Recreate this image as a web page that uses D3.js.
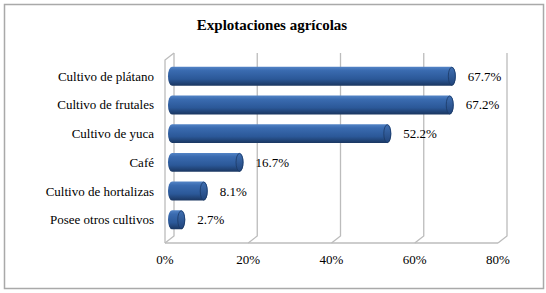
<!DOCTYPE html>
<html>
<head>
<meta charset="utf-8">
<script src="https://cdn.jsdelivr.net/npm/d3@7"></script>
<style>
  body { margin:0; background:#fff; }
  text { font-family: "Liberation Serif", "Times New Roman", serif; }
</style>
</head>
<body>
<div id="chart"></div>
<script>
var categories = ["Cultivo de plátano","Cultivo de frutales","Cultivo de yuca","Café","Cultivo de hortalizas","Posee otros cultivos"]
var values = [67.7, 67.2, 52.2, 16.7, 8.1, 2.7]
var ticks = [0, 20, 40, 60, 80]
var title = "Explotaciones agrícolas"

var width = 546, height = 293
var dx = 9, dy = 7   // depth of the fake 3d floor
var svg = d3.select('#chart').append('svg').attr('width', width).attr('height', height)

// frame
svg.append('rect').attr('x',4.5).attr('y',4.5).attr('width',539).attr('height',284)
  .attr('fill','#fff').attr('stroke','#a9a9a9').attr('stroke-width',1.5)

svg.append('text').attr('x',272).attr('y',30).attr('text-anchor','middle')
  .attr('font-size','15px').attr('font-weight','bold').text(title)

var x = d3.scaleLinear().domain([0,80]).range([174,507])   // back plane
var y = d3.scaleBand().domain(categories).range([57,239]).padding(0.34)
var wallTop = 53, floorY = 236

var defs = svg.append('defs')
var grad = defs.append('linearGradient').attr('id','barGrad').attr('x1',0).attr('y1',0).attr('x2',0).attr('y2',1)
grad.append('stop').attr('offset','0%').attr('stop-color','#5384c6')
grad.append('stop').attr('offset','20%').attr('stop-color','#3a6bb0')
grad.append('stop').attr('offset','65%').attr('stop-color','#2b5898')
grad.append('stop').attr('offset','100%').attr('stop-color','#1a3660')
var capGrad = defs.append('linearGradient').attr('id','capGrad').attr('x1',0).attr('y1',0).attr('x2',0).attr('y2',1)
capGrad.append('stop').attr('offset','0%').attr('stop-color','#3f6fb2')
capGrad.append('stop').attr('offset','100%').attr('stop-color','#21457c')

var grid = svg.append('g').attr('stroke','#bcbcbc').attr('stroke-width',1.3).attr('fill','none')
// left wall
grid.append('path').attr('d', d3.line()([[x(0)-dx, floorY+dy],[x(0)-dx, wallTop+dy],[x(0), wallTop]]))
// floor front edge
grid.append('line').attr('x1',x(0)-dx).attr('x2',x(80)-dx).attr('y1',floorY+dy).attr('y2',floorY+dy)
grid.selectAll('path.g').data(ticks).enter().append('path').attr('class','g')
  .attr('d', function(d){ return d3.line()([[x(d), wallTop],[x(d), floorY],[x(d)-dx, floorY+dy]]) })

// tick labels on the front edge
svg.selectAll('text.tick').data(ticks).enter().append('text').attr('class','tick')
  .attr('x', function(d){ return x(d)-dx }).attr('y', 264)
  .attr('text-anchor','middle').attr('font-size','13px')
  .text(function(d){ return d + '%' })

// category labels
svg.selectAll('text.cat').data(categories).enter().append('text').attr('class','cat')
  .attr('x',154).attr('y', function(d){ return y(d) + y.bandwidth()/2 + 4.5 })
  .attr('text-anchor','end').attr('font-size','13px')
  .text(function(d){ return d })

var rx = 4
var bars = svg.selectAll('g.bar').data(values).enter().append('g').attr('class','bar')
  .attr('transform', function(d,i){ return 'translate(0,' + y(categories[i]) + ')' })
var h = y.bandwidth()
bars.append('path').attr('fill','url(#barGrad)')
  .attr('d', function(d){
    var x0 = x(0) - 6 + rx, x1 = x(d) - rx
    return 'M' + x0 + ',0 L' + x1 + ',0 A' + rx + ',' + h/2 + ' 0 0 1 ' + x1 + ',' + h +
      ' L' + x0 + ',' + h + ' A' + rx + ',' + h/2 + ' 0 0 1 ' + x0 + ',0 Z'
  })
bars.append('ellipse').attr('cx', function(d){ return x(d) - rx }).attr('cy', h/2)
  .attr('rx', rx - 0.5).attr('ry', h/2 - 0.5)
  .attr('fill','url(#capGrad)').attr('stroke','#1c3a66').attr('stroke-width',0.8)

bars.append('text').attr('x', function(d){ return x(d) + 12 }).attr('y', h/2 + 4.5)
  .attr('font-size','13px').text(function(d){ return d.toFixed(1) + '%' })
</script>
</body>
</html>
